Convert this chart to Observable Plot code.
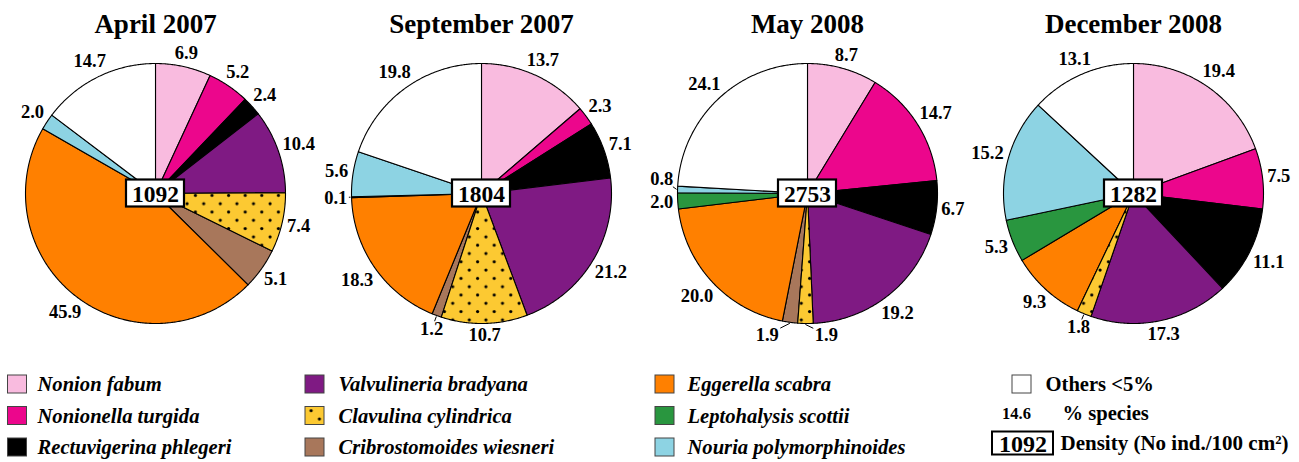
<!DOCTYPE html>
<html><head><meta charset="utf-8">
<script src="https://cdn.jsdelivr.net/npm/d3@7"></script>
<script src="https://cdn.jsdelivr.net/npm/@observablehq/plot@0.6"></script>
<style>body{margin:0;background:#fff}</style>
</head><body><div id="chart"></div>
<script>
// ---- data ----
const samples = ["April 2007", "September 2007", "May 2008", "December 2008"];
const densities = [1092, 1804, 2753, 1282];
const species = ["Nonion fabum", "Nonionella turgida", "Rectuvigerina phlegeri", "Valvulineria bradyana",
  "Clavulina cylindrica", "Cribrostomoides wiesneri", "Eggerella scabra", "Leptohalysis scottii",
  "Nouria polymorphinoides", "Others <5%"];
const speciesColors = ["#f9bbdf", "#ec068c", "#000000", "#7f1a83", "#fcc932", "#a8775b", "#ff8000", "#29963f", "#8dd3e3", "#ffffff"];
const apr2007 = [6.9, 5.2, 2.4, 10.4, 7.4, 5.1, 45.9, 0, 2.0, 14.7];
const sep2007 = [13.7, 2.3, 7.1, 21.2, 10.7, 1.2, 18.3, 0.1, 5.6, 19.8];
const may2008 = [8.7, 14.7, 6.7, 19.2, 1.9, 1.9, 20.0, 2.0, 0.8, 24.1];
const dec2008 = [19.4, 7.5, 11.1, 17.3, 1.8, 0, 9.3, 5.3, 15.2, 13.1];
const legendPercentExample = 14.6;
const legendDensityExample = 1092;
const legendPercentText = "% species";
const legendDensityText = "Density (No ind./100 cm²)";

// ---- layout ----
const W = 1299, H = 462;
const R = 130, CY = 193, CX0 = 155, DX = 326;
const LABEL_FS = 18.5;
const PATTERN = "url(#dots)";
const series = [apr2007, sep2007, may2008, dec2008];
const cxOf = p => CX0 + p * DX;

const slicePts = [], labels = [], leaders = [];
series.forEach((vals, p) => {
  const cx = cxOf(p);
  const total = d3.sum(vals);
  let cum = 0;
  const pieLabels = [];
  vals.forEach((v, i) => {
    const a0 = cum / total * 2 * Math.PI; cum += v;
    const a1 = cum / total * 2 * Math.PI;
    if (v <= 0) return;
    const key = p + "-" + i;
    const n = Math.max(2, Math.ceil((a1 - a0) / (Math.PI / 360)));
    const base = {key, sp: i, color: speciesColors[i]};
    slicePts.push({...base, x: cx, y: CY});
    for (let k = 0; k <= n; k++) {
      const a = a0 + (a1 - a0) * k / n;
      slicePts.push({...base, x: cx + R * Math.sin(a), y: CY - R * Math.cos(a)});
    }
    slicePts.push({...base, x: cx, y: CY});
    const am = (a0 + a1) / 2, s = Math.sin(am), c = Math.cos(am);
    const text = v.toFixed(1);
    const hw = ((text.length - 1) * 0.5 + 0.25) * LABEL_FS / 2;
    const rr = R + 4 + hw * Math.abs(s) + 7 * Math.abs(c);
    pieLabels.push({p, v, text, hw, am, cx, x: cx + rr * s, y: CY - rr * c, moved: false});
  });
  // simple collision resolution
  for (let it = 0; it < 3; it++) {
    for (let a = 0; a < pieLabels.length; a++) for (let b = a + 1; b < pieLabels.length; b++) {
      const A = pieLabels[a], B = pieLabels[b];
      const dx = B.x - A.x, dy = B.y - A.y;
      const ox = (A.hw + B.hw + 2) - Math.abs(dx), oy = 16 - Math.abs(dy);
      if (ox > 0 && oy > 0) {
        if (oy < ox) {
          const need = 23 - Math.abs(dy), sg = dy >= 0 ? 1 : -1;
          if (A.v < B.v) { A.y -= sg * need; A.moved = true; }
          else if (B.v < A.v) { B.y += sg * need; B.moved = true; }
          else { A.y -= sg * need / 2; B.y += sg * need / 2; A.moved = B.moved = true; }
        } else {
          const need = (A.hw + B.hw + 36) - Math.abs(dx), sg = dx >= 0 ? 1 : -1;
          if (A.v < B.v) { A.x -= sg * need; A.moved = true; }
          else if (B.v < A.v) { B.x += sg * need; B.moved = true; }
          else { A.x -= sg * need / 2; B.x += sg * need / 2; A.moved = B.moved = true; }
        }
      }
    }
  }
  pieLabels.forEach(L => {
    labels.push(L);
    if (L.v < 2 || L.moved) {
      const ex = L.cx + (R + 1) * Math.sin(L.am), ey = CY - (R + 1) * Math.cos(L.am);
      const vx = ex - L.x, vy = ey - L.y;
      const t = Math.min((L.hw + 1.5) / Math.abs(vx || 1e-9), 8 / Math.abs(vy || 1e-9));
      if (t < 1) leaders.push({x1: L.x + vx * t, y1: L.y + vy * t, x2: ex, y2: ey});
    }
  });
});

const boxes = densities.map((d, p) => ({d, cx: cxOf(p)}));
const titles = samples.map((t, p) => ({t, cx: cxOf(p)}));

// legend
const colSwatchX = [7.5, 305, 655];
const colTextX = [37, 338, 687];
const rowY = [384, 415.5, 447];
const legendItems = species.slice(0, 9).map((s, i) => ({
  s, i, color: speciesColors[i], col: Math.floor(i / 3), row: i % 3
}));
const col4 = {swX: 1012, textX: 1045, rows: [384, 413, 443]};
const LEG_FS = 20.6;

const serif = "'Liberation Serif', 'Times New Roman', Times, serif";

const chart = Plot.plot({
  width: W, height: H, margin: 0,
  x: {domain: [0, W], range: [0, W], axis: null},
  y: {domain: [0, H], range: [0, H], axis: null},
  color: {type: "identity"},
  style: {fontFamily: serif, background: "white", color: "black"},
  marks: [
    Plot.line(slicePts.filter(d => d.sp !== 4), {x: "x", y: "y", z: "key", fill: "color", stroke: "black", strokeWidth: 1.1, curve: "linear"}),
    Plot.line(slicePts.filter(d => d.sp === 4), {x: "x", y: "y", z: "key", fill: PATTERN, stroke: "black", strokeWidth: 1.1, curve: "linear"}),
    Plot.link(leaders, {x1: "x1", y1: "y1", x2: "x2", y2: "y2", stroke: "black", strokeWidth: 1}),
    Plot.text(labels, {x: "x", y: "y", text: "text", fontSize: LABEL_FS, fontWeight: "bold", fill: "black"}),
    Plot.rect(boxes, {x1: d => d.cx - 29, x2: d => d.cx + 29, y1: CY - 13.5, y2: CY + 13.5, fill: "white", stroke: "black", strokeWidth: 2.2}),
    Plot.text(boxes, {x: "cx", y: CY + 0.5, text: d => String(d.d), fontSize: 23.5, fontWeight: "bold", fill: "black"}),
    Plot.text(titles, {x: "cx", y: 23.5, text: "t", fontSize: 27, fontWeight: "bold", fill: "black"}),
    // legend
    Plot.rect(legendItems.filter(d => d.i !== 4), {x1: d => colSwatchX[d.col], x2: d => colSwatchX[d.col] + 19, y1: d => rowY[d.row] - 9, y2: d => rowY[d.row] + 9, fill: "color", stroke: "#444", strokeWidth: 1}),
    Plot.rect(legendItems.filter(d => d.i === 4), {x1: d => colSwatchX[d.col], x2: d => colSwatchX[d.col] + 19, y1: d => rowY[d.row] - 9, y2: d => rowY[d.row] + 9, fill: PATTERN, stroke: "#444", strokeWidth: 1}),
    Plot.text(legendItems, {x: d => colTextX[d.col], y: d => rowY[d.row], text: "s", textAnchor: "start", fontSize: LEG_FS, fontWeight: "bold", fontStyle: "italic", fill: "black"}),
    Plot.rect([species[9]], {x1: col4.swX, x2: col4.swX + 19, y1: col4.rows[0] - 9, y2: col4.rows[0] + 9, fill: speciesColors[9], stroke: "#444", strokeWidth: 1}),
    Plot.text([species[9]], {x: col4.textX, y: col4.rows[0], text: d => d, textAnchor: "start", fontSize: LEG_FS, fontWeight: "bold", fill: "black"}),
    Plot.text([legendPercentExample], {x: 1016, y: col4.rows[1], text: d => d.toFixed(1), fontSize: 16.5, fontWeight: "bold", fill: "black"}),
    Plot.text([legendPercentText], {x: 1062, y: col4.rows[1], text: d => d, textAnchor: "start", fontSize: LEG_FS, fontWeight: "bold", fill: "black"}),
    Plot.rect([legendDensityExample], {x1: 992, x2: 1053, y1: col4.rows[2] - 11.5, y2: col4.rows[2] + 11.5, fill: "white", stroke: "black", strokeWidth: 2}),
    Plot.text([legendDensityExample], {x: 1022.5, y: col4.rows[2] + 0.5, text: d => String(d), fontSize: 24, fontWeight: "bold", fill: "black"}),
    Plot.text([legendDensityText], {x: 1060, y: col4.rows[2], text: d => d, textAnchor: "start", fontSize: 21, fontWeight: "bold", fill: "black"})
  ]
});

// dotted pattern for Clavulina cylindrica
const svgSel = d3.select(chart);
const defs = svgSel.insert("defs", ":first-child");
const pat = defs.append("pattern").attr("id", "dots").attr("patternUnits", "userSpaceOnUse")
  .attr("width", 16.6).attr("height", 16.6);
pat.append("rect").attr("width", 16.6).attr("height", 16.6).attr("fill", speciesColors[4]);
pat.append("circle").attr("cx", 4).attr("cy", 4).attr("r", 1.6).attr("fill", "black");
pat.append("circle").attr("cx", 12.3).attr("cy", 12.3).attr("r", 1.6).attr("fill", "black");

document.getElementById("chart").appendChild(chart);
</script>
</body></html>
